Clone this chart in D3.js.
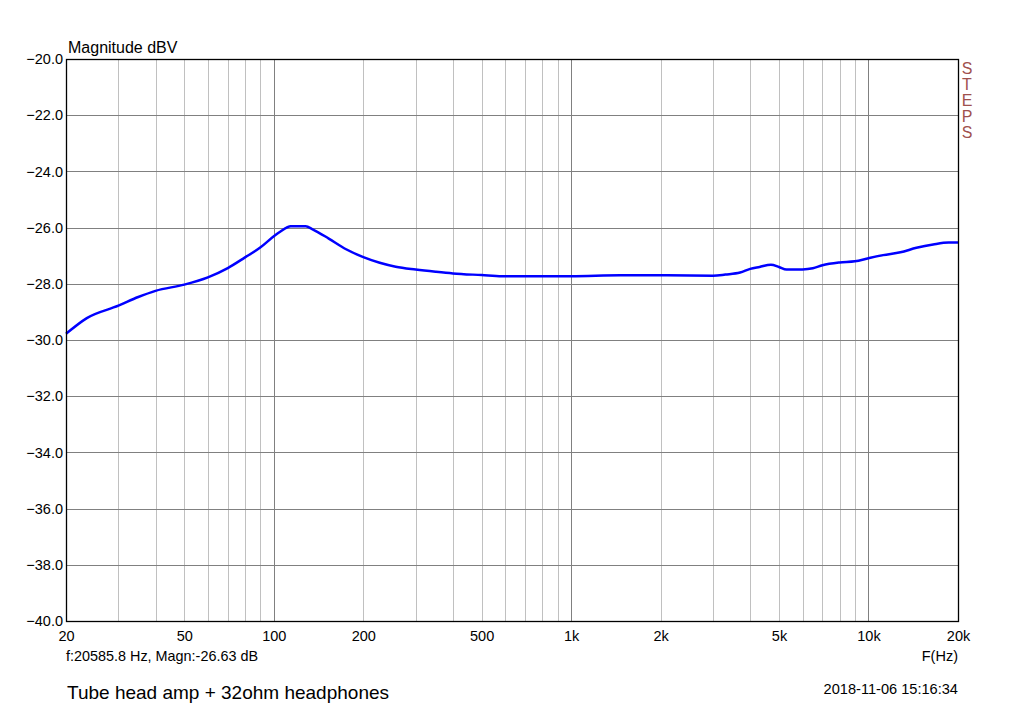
<!DOCTYPE html>
<html><head><meta charset="utf-8">
<script src="https://cdn.jsdelivr.net/npm/d3@7"></script>
<style>body{margin:0;background:#fff}svg{display:block;font-family:"Liberation Sans",Arial,sans-serif}</style>
</head><body><svg id="c" width="1024" height="718"></svg>
<script>
const freqs = [20,23.5,30,35,40,50,60,70,80,90,100,105,114,128,135,153,175,200,227,257,300,350,400,500,585,1000,1460,2100,3000,3300,3700,4000,4300,4700,5000,5300,6000,6500,7000,8000,9000,10000,11200,12800,14500,16500,18600,20000];
const magn = [-29.78,-29.22,-28.78,-28.47,-28.25,-28.03,-27.77,-27.44,-27.06,-26.71,-26.31,-26.15,-25.95,-25.95,-26.06,-26.39,-26.77,-27.05,-27.25,-27.39,-27.49,-27.57,-27.63,-27.69,-27.73,-27.73,-27.70,-27.70,-27.71,-27.67,-27.60,-27.47,-27.40,-27.32,-27.40,-27.49,-27.49,-27.45,-27.34,-27.24,-27.20,-27.09,-26.98,-26.88,-26.72,-26.60,-26.53,-26.53];
const xTickVals = [20,50,100,200,500,1000,2000,5000,10000,20000];
const xTickLabels = ["20","50","100","200","500","1k","2k","5k","10k","20k"];
const yTickVals = [-40,-38,-36,-34,-32,-30,-28,-26,-24,-22,-20];
const yLabel = "Magnitude dBV";
const xLabel = "F(Hz)";
const cursorText = "f:20585.8 Hz, Magn:-26.63 dB";
const titleText = "Tube head amp + 32ohm headphones";
const dateText = "2018-11-06 15:16:34";
const brand = ["S","T","E","P","S"];

const svg = d3.select("#c");
const L=66,R=958,T=59,B=621;
const x = d3.scaleLog().domain([20,20000]).range([L,R]);
const y = d3.scaleLinear().domain([-40,-20]).range([B,T]);

const minor=[];
[10,100,1000,10000].forEach(d=>{for(let k=1;k<10;k++){const f=d*k;if(f>20&&f<20000)minor.push(f);}});
const g=svg.append("g");
g.selectAll("line.v").data(minor).enter().append("line")
 .attr("x1",d=>Math.round(x(d))+0.5).attr("x2",d=>Math.round(x(d))+0.5).attr("y1",T).attr("y2",B)
 .attr("stroke",d=>[100,1000,10000].includes(d)?"#808080":"#c0c0c0").attr("stroke-width",1);
g.selectAll("line.h").data(yTickVals.slice(1,-1)).enter().append("line")
 .attr("x1",L).attr("x2",R).attr("y1",d=>Math.round(y(d))+0.5).attr("y2",d=>Math.round(y(d))+0.5)
 .attr("stroke","#808080").attr("stroke-width",1);

const yAx = d3.axisLeft(y).tickValues(yTickVals).tickFormat(d3.format(".1f")).tickSize(0).tickPadding(3);
const ya=svg.append("g").attr("transform",`translate(${L},0)`).call(yAx);
ya.select(".domain").remove();
ya.selectAll("text").attr("font-size",14.5).attr("fill","#000").attr("font-family","Liberation Sans, Arial, sans-serif");
const xAx = d3.axisBottom(x).tickValues(xTickVals).tickFormat((d,i)=>xTickLabels[i]).tickSize(0).tickPadding(10);
const xa=svg.append("g").attr("transform",`translate(0,${B})`).call(xAx);
xa.select(".domain").remove();
xa.selectAll("text").attr("font-size",14.5).attr("fill","#000").attr("font-family","Liberation Sans, Arial, sans-serif");

const line=d3.line().x((d,i)=>x(freqs[i])).y(d=>y(d)).curve(d3.curveMonotoneX);
svg.append("path").datum(magn).attr("d",line).attr("fill","none").attr("stroke","#0000ff").attr("stroke-width",2.5);

svg.append("rect").attr("x",L+0.5).attr("y",T+0.5).attr("width",R-L).attr("height",B-T)
 .attr("fill","none").attr("stroke","#000").attr("stroke-width",1.3);

const txt=(s,xx,yy,sz,anchor,col)=>svg.append("text").attr("x",xx).attr("y",yy).attr("font-size",sz).attr("text-anchor",anchor||"start").attr("fill",col||"#000").text(s);
txt(yLabel,68,53,16);
txt(cursorText,66,661,14.4);
txt(xLabel,958,661,14.5,"end");
txt(titleText,67,699,19);
txt(dateText,958,694,14.6,"end");
brand.forEach((c,i)=>txt(c,967,74+i*16,16,"middle","#a0504d"));
</script></body></html>
